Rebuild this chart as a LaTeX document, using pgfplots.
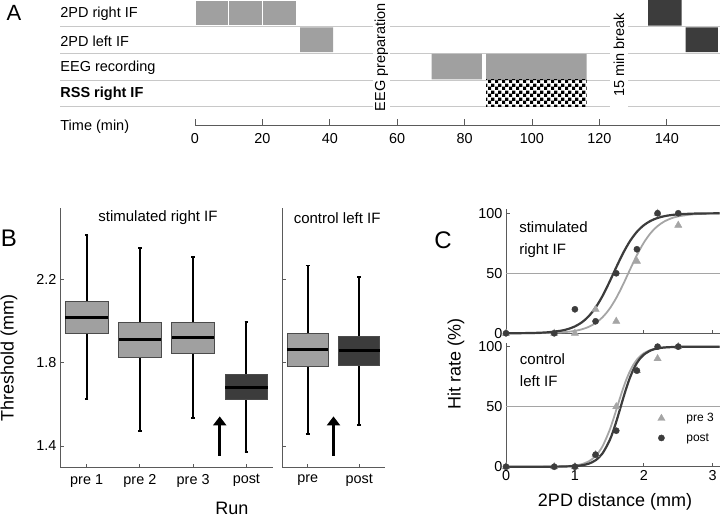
\documentclass[border=0pt]{standalone}
\usepackage{fontspec}
\setmainfont{Liberation Sans}
\usepackage{pgfplots}
\pgfplotsset{compat=1.18}
\usepgfplotslibrary{statistics}
\usetikzlibrary{patterns,arrows.meta}
\pgfdeclarepatternformonly{mychecker}{\pgfpointorigin}{\pgfqpoint{6.6pt}{6.6pt}}{\pgfqpoint{6.6pt}{6.6pt}}{%
  \pgfpathrectangle{\pgfpointorigin}{\pgfqpoint{3.35pt}{3.35pt}}%
  \pgfpathrectangle{\pgfqpoint{3.3pt}{3.3pt}}{\pgfqpoint{3.35pt}{3.35pt}}%
  \pgfusepath{fill}}
\definecolor{lgray}{RGB}{160,160,160}
\definecolor{dgray}{RGB}{60,60,60}
\definecolor{sepline}{RGB}{200,200,200}
\definecolor{axcol}{RGB}{90,90,90}
\definecolor{cgray}{RGB}{165,165,165}
\definecolor{boxedge}{RGB}{75,75,75}
\pgfplotsset{
  common/.style={scale only axis, clip=false,
    axis line style={-, draw=axcol, line width=0.8pt},
    tick style={draw=axcol, line width=0.8pt},
    tick align=inside, major tick length=3.5pt,
    tick label style={font=\fontsize{14.4}{17}\selectfont},
    /pgf/number format/assume math mode=true},
  boxstyle/.style={
    boxplot/draw direction=y,
    boxplot/every box/.style={draw=boxedge, line width=0.8pt},
    boxplot/every whisker/.style={black, line width=1.9pt},
    boxplot/every median/.style={black, line width=3pt}},
}
\begin{document}
\begin{tikzpicture}[x=1pt,y=1pt]
\path[use as bounding box] (0pt,0pt) rectangle (720pt,520pt);

% ---------------- Panel A ----------------
\node[font=\fontsize{22}{26}\selectfont] at (14pt,507pt) {A};
\begin{axis}[common, at={(195pt,395pt)}, anchor=south west,
  width=525pt, height=125pt, xmin=0, xmax=155.8, ymin=0, ymax=125,
  axis x line*=bottom, hide y axis,
  xtick={0,20,...,140}, major tick length=6pt,
  xticklabel style={yshift=-5pt},
  unbounded coords=jump]
\addplot[sepline, line width=0.8pt, forget plot] coordinates {
 (-40,98.5) (52.8,98.5) (nan,nan) (57.9,98.5) (123.1,98.5) (nan,nan) (128.5,98.5) (155.8,98.5) (nan,nan)
 (-40,72) (52.8,72) (nan,nan) (57.9,72) (123.1,72) (nan,nan) (128.5,72) (155.8,72) (nan,nan)
 (-40,45) (52.8,45) (nan,nan) (57.9,45) (123.1,45) (nan,nan) (128.5,45) (155.8,45) (nan,nan)
 (-40,18.3) (52.8,18.3) (nan,nan) (57.9,18.3) (123.1,18.3) (nan,nan) (128.5,18.3) (155.8,18.3)};
% 2PD right IF (pre)
\addplot[fill=lgray, draw=white, line width=0.8pt] coordinates {(0,99.3) (10,99.3) (10,125) (0,125) (0,99.3)};
\addplot[fill=lgray, draw=white, line width=0.8pt] coordinates {(10,99.3) (20,99.3) (20,125) (10,125) (10,99.3)};
\addplot[fill=lgray, draw=white, line width=0.8pt] coordinates {(20,99.3) (30,99.3) (30,125) (20,125) (20,99.3)};
% 2PD left IF (pre)
\addplot[fill=lgray, draw=none] coordinates {(31.2,72.8) (41,72.8) (41,97.7) (31.2,97.7) (31.2,72.8)};
% EEG recording
\addplot[fill=lgray, draw=none] coordinates {(70.2,45.6) (85.1,45.6) (85.1,71.2) (70.2,71.2) (70.2,45.6)};
\addplot[fill=lgray, draw=none] coordinates {(86.4,45.6) (116.2,45.6) (116.2,71.2) (86.4,71.2) (86.4,45.6)};
% RSS right IF
\addplot[pattern=mychecker, draw=none] coordinates {(86.4,18.3) (116.2,18.3) (116.2,45.2) (86.4,45.2) (86.4,18.3)};
% post
\addplot[fill=dgray, draw=none] coordinates {(134.5,99.3) (144.4,99.3) (144.4,125) (134.5,125) (134.5,99.3)};
\addplot[fill=dgray, draw=none] coordinates {(145.6,72.8) (155.2,72.8) (155.2,97.7) (145.6,97.7) (145.6,72.8)};
\begin{scope}[every node/.style={anchor=west, inner sep=0pt, font=\fontsize{14.5}{17}\selectfont}]
\node at (axis cs:-40,111) {2PD right IF};
\node at (axis cs:-40,84) {2PD left IF};
\node at (axis cs:-40,57) {EEG recording};
\node at (axis cs:-40,31.5) {\bfseries RSS right IF};
\node at (axis cs:-40,-1.7) {Time (min)};
\end{scope}
\node[rotate=90, inner sep=0pt, font=\fontsize{14.5}{17}\selectfont] at (axis cs:55.3,68) {EEG preparation};
\node[rotate=90, inner sep=0pt, font=\fontsize{14.5}{17}\selectfont] at (axis cs:125.8,70) {15 min break};
\end{axis}

% ---------------- Panel B ----------------
\node[font=\fontsize{24}{28}\selectfont] at (9pt,282pt) {B};
\begin{axis}[common, boxstyle, at={(60pt,53pt)}, anchor=south west,
  width=213pt, height=259pt, xmin=0, xmax=4, ymin=1.299, ymax=2.543,
  axis x line*=bottom, axis y line*=left,
  xtick={0.5,1.5,2.5,3.5}, xticklabels={pre 1,pre 2,pre 3,post},
  xticklabel style={yshift=-4pt},
  ytick={1.4,1.8,2.2},
  yticklabel style={/pgf/number format/.cd, fixed, fixed zerofill, precision=1}]
\addplot[fill=lgray, draw=boxedge, boxplot prepared={draw position=0.5, median=2.017, upper quartile=2.094, lower quartile=1.941, upper whisker=2.413, lower whisker=1.624, box extend=0.8, whisker extend=0.07}] coordinates {};
\addplot[fill=lgray, draw=boxedge, boxplot prepared={draw position=1.5, median=1.910, upper quartile=1.995, lower quartile=1.824, upper whisker=2.349, lower whisker=1.472, box extend=0.8, whisker extend=0.07}] coordinates {};
\addplot[fill=lgray, draw=boxedge, boxplot prepared={draw position=2.5, median=1.920, upper quartile=1.995, lower quartile=1.845, upper whisker=2.307, lower whisker=1.533, box extend=0.8, whisker extend=0.07}] coordinates {};
\addplot[fill=dgray, draw=boxedge, boxplot prepared={draw position=3.5, median=1.683, upper quartile=1.744, lower quartile=1.624, upper whisker=1.997, lower whisker=1.371, box extend=0.8, whisker extend=0.07}] coordinates {};
\draw[-{Triangle[length=9pt,width=13pt]}, line width=2.8pt] (axis cs:3,1.352) -- (axis cs:3,1.542);
\node[font=\fontsize{15}{18}\selectfont] at (axis cs:1.84,2.495) {stimulated right IF};
\end{axis}
\begin{axis}[common, boxstyle, at={(282pt,53pt)}, anchor=south west,
  width=103pt, height=259pt, xmin=0, xmax=2, ymin=1.299, ymax=2.543,
  axis x line*=bottom, axis y line*=left,
  xtick={0.5,1.5}, xticklabels={pre,post},
  xticklabel style={yshift=-4pt},
  ytick={1.4,1.8,2.2}, yticklabels={}]
\addplot[fill=lgray, draw=boxedge, boxplot prepared={draw position=0.5, median=1.864, upper quartile=1.942, lower quartile=1.784, upper whisker=2.267, lower whisker=1.459, box extend=0.8, whisker extend=0.07}] coordinates {};
\addplot[fill=dgray, draw=boxedge, boxplot prepared={draw position=1.5, median=1.859, upper quartile=1.926, lower quartile=1.787, upper whisker=2.213, lower whisker=1.500, box extend=0.8, whisker extend=0.07}] coordinates {};
\draw[-{Triangle[length=9pt,width=13pt]}, line width=2.8pt] (axis cs:1,1.352) -- (axis cs:1,1.542);
\node[font=\fontsize{15}{18}\selectfont] at (axis cs:1.07,2.495) {control left IF};
\end{axis}
\node[rotate=90, font=\fontsize{18}{21}\selectfont, inner sep=0pt] at (9pt,162pt) {Threshold (mm)};
\node[font=\fontsize{18}{21}\selectfont, inner sep=0pt] at (232pt,12pt) {Run};

% ---------------- Panel C ----------------
\node[font=\fontsize{24}{28}\selectfont] at (443pt,280pt) {C};
\begin{axis}[common, at={(506pt,186.7pt)}, anchor=south west,
  width=214pt, height=124pt, xmin=0, xmax=3.106, ymin=0, ymax=103.3,
  axis x line*=bottom, axis y line*=left,
  xtick={0,1,2,3}, xticklabels={}, ytick={0,50,100}]
\addplot[cgray, line width=0.7pt, forget plot] coordinates {(0,50) (3.106,50)};
\addplot[cgray, line width=1.8pt, smooth, forget plot] coordinates {(0,0.01) (0.2,0.04) (0.4,0.10) (0.6,0.28) (0.8,0.76) (0.9,1.24) (1.0,2.03) (1.1,3.31) (1.2,5.34) (1.3,8.51) (1.4,13.30) (1.5,20.18) (1.6,29.42) (1.7,40.73) (1.8,53.12) (1.9,65.13) (2.0,75.49) (2.1,83.55) (2.2,89.33) (2.3,93.25) (2.4,95.79) (2.5,97.41) (2.7,99.03) (2.9,99.64) (3.1,99.87)};
\addplot[dgray, line width=2.2pt, smooth, forget plot] coordinates {(0,0.04) (0.2,0.11) (0.4,0.30) (0.6,0.82) (0.8,2.19) (0.9,3.56) (1.0,5.73) (1.1,9.11) (1.2,14.19) (1.3,21.42) (1.4,31.0) (1.5,42.56) (1.6,54.98) (1.7,66.82) (1.8,76.85) (1.9,84.55) (2.0,90.03) (2.1,93.70) (2.2,96.08) (2.3,97.59) (2.4,98.52) (2.5,99.10) (2.7,99.67) (2.9,99.88) (3.1,99.95)};
\addplot[only marks, mark=triangle*, mark size=4.2pt, cgray, mark options={fill=cgray, draw=cgray}] coordinates {(0,0) (0.7,0) (1.0,0) (1.3,20) (1.6,10) (1.9,60) (2.2,100) (2.5,90)};
\addplot[only marks, mark=*, mark size=3.1pt, dgray, mark options={fill=dgray, draw=dgray}] coordinates {(0,0) (0.7,0) (1.0,20) (1.3,10) (1.6,50) (1.9,70) (2.2,100) (2.5,100)};
\node[anchor=west, align=left, inner sep=0pt, font=\fontsize{15}{21.5}\selectfont] at (axis cs:0.19,78) {stimulated\\right IF};
\end{axis}
\begin{axis}[common, at={(506pt,53.3pt)}, anchor=south west,
  width=214pt, height=124pt, xmin=0, xmax=3.106, ymin=0, ymax=103.3,
  axis x line*=bottom, axis y line*=left,
  xtick={0,1,2,3}, ytick={0,50,100},
  legend style={at={(axis cs:2.126,46.2)}, anchor=north west, draw=none, fill=none,
    font=\fontsize{12}{14}\selectfont, row sep=6pt, inner sep=0pt},
  legend cell align=left,
  legend image code/.code={\draw[#1] plot coordinates {(0.3cm,0cm)}; \path (0cm,0cm) (1.1cm,0cm);}]
\addplot[cgray, line width=0.7pt, forget plot] coordinates {(0,50) (3.106,50)};
\addplot[cgray, line width=1.8pt, smooth, forget plot] coordinates {(0,0) (0.5,0.03) (0.8,0.24) (1.0,1.04) (1.1,2.16) (1.2,4.42) (1.3,8.84) (1.4,16.90) (1.5,29.90) (1.55,38.19) (1.6,47.23) (1.65,56.44) (1.7,65.25) (1.75,73.11) (1.8,79.74) (1.85,85.08) (1.9,89.20) (1.95,92.28) (2.0,94.54) (2.1,97.32) (2.2,98.71) (2.3,99.38) (2.5,99.86) (2.8,99.99) (3.1,100)};
\addplot[dgray, line width=2.2pt, smooth, forget plot] coordinates {(0,0) (0.5,0.01) (0.8,0.11) (1.0,0.53) (1.1,1.16) (1.2,2.50) (1.3,5.35) (1.4,11.04) (1.5,21.43) (1.55,28.79) (1.6,37.48) (1.65,47.05) (1.7,56.86) (1.75,66.13) (1.8,74.33) (1.85,81.1) (1.9,86.41) (1.95,90.4) (2.0,93.33) (2.1,96.85) (2.2,98.54) (2.3,99.33) (2.5,99.86) (2.8,99.99) (3.1,100)};
\addplot[only marks, mark=triangle*, mark size=4.2pt, cgray, mark options={fill=cgray, draw=cgray}] coordinates {(0,0) (0.7,0) (1.0,0) (1.3,10) (1.6,50) (1.9,80) (2.2,90) (2.5,100)};
\addlegendentry{pre 3}
\addplot[only marks, mark=*, mark size=3.1pt, dgray, mark options={fill=dgray, draw=dgray}] coordinates {(0,0) (0.7,0) (1.0,0) (1.3,10) (1.6,30) (1.9,80) (2.2,100) (2.5,100)};
\addlegendentry{post}
\node[anchor=west, align=left, inner sep=0pt, font=\fontsize{15}{21.5}\selectfont] at (axis cs:0.2,80.6) {control\\left IF};
\end{axis}
\node[rotate=90, font=\fontsize{18}{21}\selectfont, inner sep=0pt] at (456pt,156pt) {Hit rate (\%)};
\node[font=\fontsize{18}{21}\selectfont, inner sep=0pt] at (615pt,18pt) {2PD distance (mm)};
\end{tikzpicture}
\end{document}
